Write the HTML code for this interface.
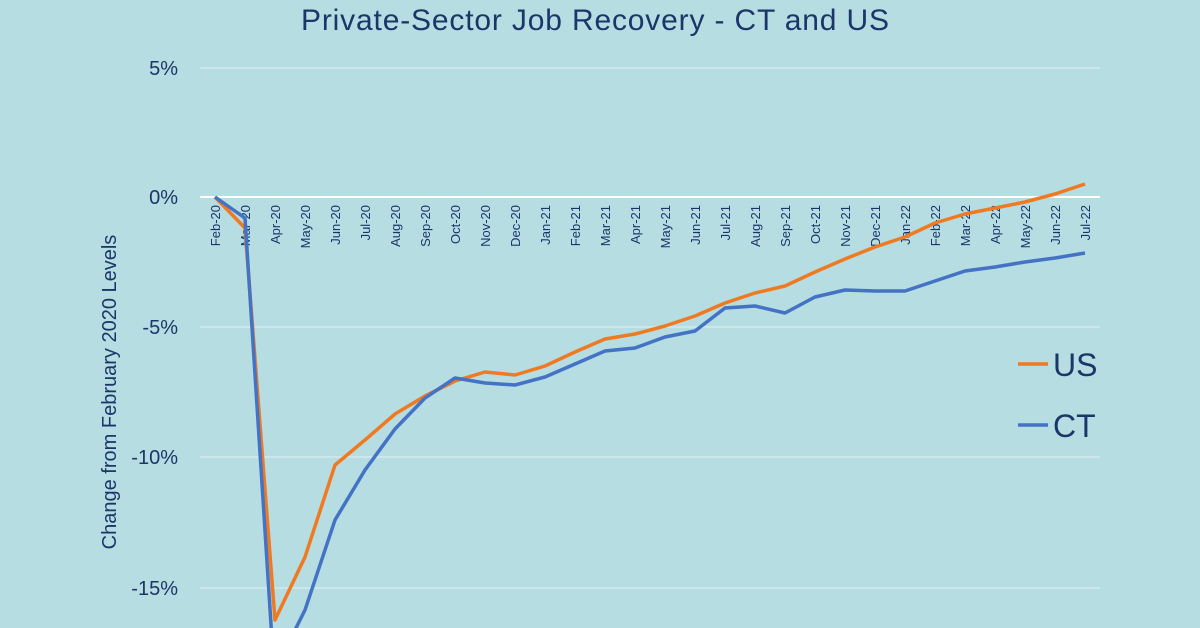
<!DOCTYPE html><html><head><style>body{margin:0;background:#b5dde2}svg{display:block}text{font-family:"Liberation Sans",sans-serif;fill:#1b3668}</style></head><body>
<svg width="1200" height="628" viewBox="0 0 1200 628">
<rect width="1200" height="628" fill="#b5dde2"/>
<text x="595" y="30" font-size="30" text-anchor="middle" textLength="588">Private-Sector Job Recovery - CT and US</text>
<g stroke="#d3eaee" stroke-width="1.5">
<line x1="200" x2="1100" y1="68" y2="68"/><line x1="200" x2="1100" y1="327" y2="327"/><line x1="200" x2="1100" y1="457" y2="457"/><line x1="200" x2="1100" y1="588" y2="588"/></g>
<line x1="200" x2="1100" y1="197" y2="197" stroke="#fff" stroke-width="2"/>
<g font-size="20" text-anchor="end"><text x="178" y="75">5%</text><text x="178" y="204">0%</text><text x="178" y="334">-5%</text><text x="178" y="464">-10%</text><text x="178" y="595">-15%</text></g>
<text transform="translate(116,392) rotate(-90)" font-size="20" text-anchor="middle">Change from February 2020 Levels</text>
<g font-size="13" text-anchor="end" id="xl"></g>
<polyline fill="none" stroke="#f07a22" stroke-width="3.5" stroke-linejoin="round" points="215,197 245,228 275,620 305,557 335,465 365,440 395,414 425,396 455,381 485,372 515,375 545,366 575,352 605,339 635,334 665,326 695,316 725,303 755,293 785,286 815,272 845,259 875,247 905,237 935,223 965,214 995,208 1025,202 1055,194 1085,184"/>
<polyline fill="none" stroke="#4472c4" stroke-width="3.5" stroke-linejoin="round" points="215,197 245,218 272,640 290,640 305,610 335,520 365,470 395,429 425,398 455,378 485,383 515,385 545,377 575,364 605,351 635,348 665,337 695,331 725,308 755,306 785,313 815,297 845,290 875,291 905,291 935,281 965,271 995,267 1025,262 1055,258 1085,253"/>
<line x1="1018" x2="1048" y1="364" y2="364" stroke="#f07a22" stroke-width="3.5"/>
<text x="1053" y="376" font-size="32">US</text>
<line x1="1018" x2="1048" y1="425" y2="425" stroke="#4472c4" stroke-width="3.5"/>
<text x="1053" y="437" font-size="32">CT</text>
</svg>
<script>
var m=["Feb","Mar","Apr","May","Jun","Jul","Aug","Sep","Oct","Nov","Dec","Jan"],g=document.getElementById("xl"),s="";
for(var i=0;i<30;i++){var mo=(i)%12,yr=20+Math.floor((i+1)/12);var x=215+30*i+5;s+='<text transform="translate('+x+',205) rotate(-90)">'+m[mo]+'-'+yr+'</text>';}
g.innerHTML=s;
</script>
</body></html>
